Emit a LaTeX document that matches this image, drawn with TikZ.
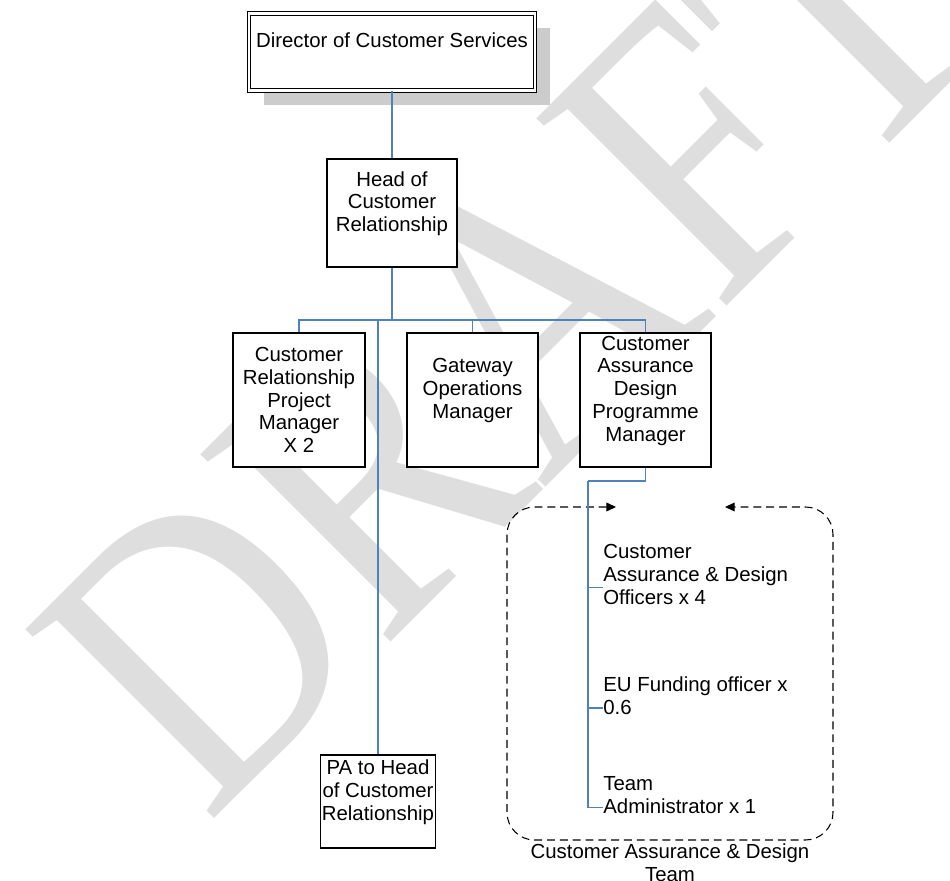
\documentclass[tikz,border=0pt]{standalone}
\usepackage{fontspec}
\setmainfont{Liberation Sans}
\newfontfamily\wmfont{Liberation Serif}
\usepackage{tikz}
\usetikzlibrary{calc}
\usetikzlibrary{arrows.meta}

\definecolor{linkblue}{RGB}{79,129,189}
\newcommand{\orgfont}{\fontsize{11.6}{13}\selectfont}

\begin{document}
\begin{tikzpicture}[x=0.02cm, y=-0.02cm,
		orgbox/.style={draw=black, fill=white, line width=0.6pt, inner sep=1pt, align=center, font=\orgfont},
		link/.style={draw=linkblue, line width=0.75pt},
		staff/.style={anchor=north west, inner sep=0pt, align=left, font=\orgfont},
		teambox/.style={dash pattern=on 4.5pt off 2.8pt, line width=0.6pt, rounded corners=0.55cm,
			{Triangle[length=5.5pt,width=5pt]}-{Triangle[length=5.5pt,width=5pt]}},
		wmark/.style={anchor=base west, rotate=45, xscale=0.84, inner sep=0pt, text=black!13,
			font=\wmfont\fontsize{232}{232}\selectfont}]

				\useasboundingbox (0,0) rectangle (950,881);
				\clip (0,0) rectangle (950,881);

				\node[wmark] (draft) at (207,826) {DRAFT};

				\fill[black!20] (264,28) rectangle (550,105);
				\node[orgbox, double, double distance=1.2pt, minimum width=5.72cm, minimum height=1.54cm] (dir) at (392,52) {Director of Customer Services\\\mbox{}};
				\node[orgbox, minimum width=2.6cm, minimum height=2.16cm] (head) at (392,213) {Head of\\Customer\\Relationship\\\mbox{}};
				\node[orgbox, minimum width=2.64cm, minimum height=2.68cm] (crpm) at (299,400) {Customer\\Relationship\\Project\\Manager\\X 2};
				\node[orgbox, minimum width=2.62cm, minimum height=2.68cm] (gom) at (472.5,400) {Gateway\\Operations\\Manager\\\mbox{}};
				\node[orgbox, minimum width=2.62cm, minimum height=2.68cm] (cadpm) at (645.5,400) {Customer\\Assurance\\Design\\Programme\\Manager\\\mbox{}};
				\node[orgbox, minimum width=2.3cm, minimum height=1.86cm] (pa) at (378,801.5) {PA to Head\\of Customer\\Relationship\\\mbox{}};

				\coordinate (bus) at (392,320);
				\draw[link] (dir) -- (head);
				\draw[link] (head) -- (bus);
				\draw[link] (bus) -| (crpm.north);
				\draw[link] (bus) -| (gom.north);
				\draw[link] (bus) -| (cadpm.north);
				\draw[link] (bus) -| (pa.north);

				\coordinate (gapL) at (616,507);
				\coordinate (gapR) at (725,507);
				\draw[teambox] (gapL) -- (507,507) -- (507,840) -- (833,840) -- (833,507) -- (gapR);
				\node[orgbox, draw=none, fill=none, inner sep=0pt, anchor=north] (team) at (670,843.4) {Customer Assurance \& Design\\Team};

				\node[staff] (officers) at (603,544.4) {Customer\\Assurance \& Design\\Officers x 4};
				\node[staff] (eu) at (603,676.4) {EU Funding officer x\\0.6};
				\node[staff] (admin) at (603,776.4) {Team\\Administrator x 1};

				\coordinate (elbow) at (588,481);
				\draw[link] (cadpm.south) |- (elbow);
				\draw[link] (elbow) |- ($(officers.west)+(0,12.5)$);
				\draw[link] (elbow) |- ($(eu.west)+(0,12.5)$);
				\draw[link] (elbow) |- ($(admin.west)+(0,12.5)$);
			\end{tikzpicture}
\end{document}
